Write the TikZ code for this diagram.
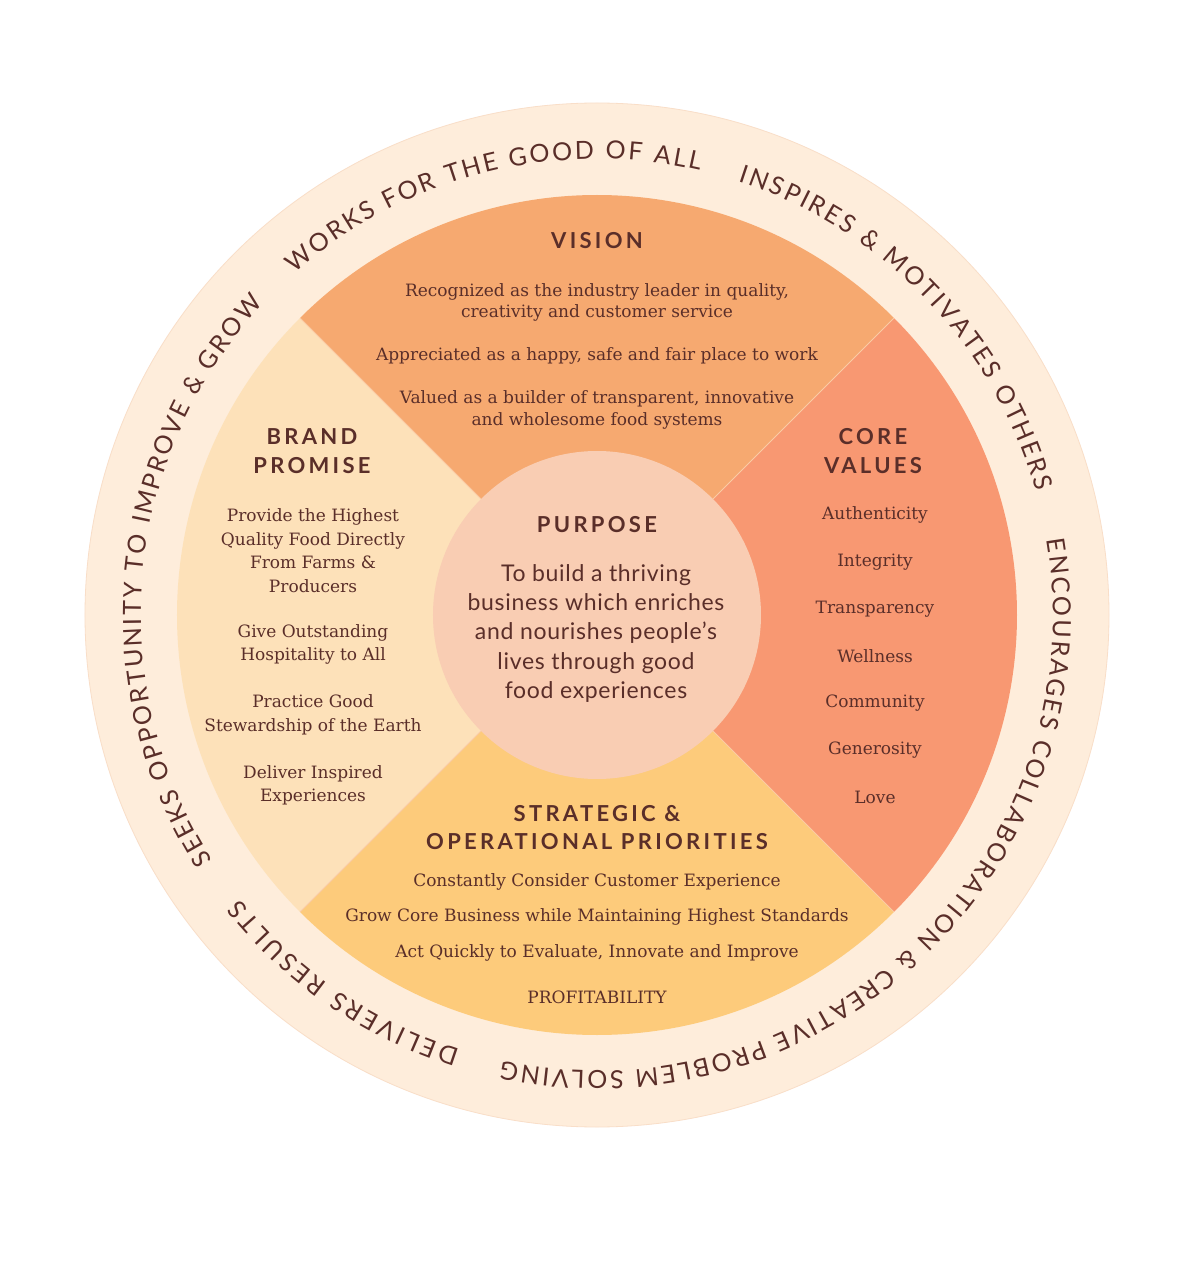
\documentclass[tikz,border=0pt]{standalone}
\usepackage{fontspec}
\setmainfont{DejaVu Serif}
\newfontfamily\headfont[LetterSpace=15]{Lato}
\newfontfamily\sansfont{Lato}
\newfontfamily\bodysans[LetterSpace=3]{Lato}
\usetikzlibrary{decorations.text}
\definecolor{ringbg}{HTML}{FEEDDB}
\definecolor{ringedge}{HTML}{F9DEC8}
\definecolor{visioncol}{HTML}{F6A970}
\definecolor{valuescol}{HTML}{F89872}
\definecolor{priocol}{HTML}{FDCB7B}
\definecolor{brandcol}{HTML}{FDE1B9}
\definecolor{purposecol}{HTML}{F9CDB3}
\definecolor{textbrown}{HTML}{5A2E29}

\begin{document}
\begin{tikzpicture}[x=1pt,y=1pt,
    headtext/.style={text=textbrown, align=center, inner sep=0pt,
      font=\headfont\bfseries\fontsize{22}{28.5}\selectfont},
    itemtext/.style={text=textbrown, align=center, inner sep=0pt,
      font=\fontsize{17}{#1}\selectfont},
    itemtext/.default=21.5,
    purposetext/.style={text=textbrown, align=center, inner sep=0pt,
      font=\bodysans\fontsize{23}{29.25}\selectfont},
    ringtext/.style={decorate, decoration={text along path, text align=fit to path,
      text={|\sansfont\fontsize{25}{25}\selectfont\color{textbrown}|#1}}}]
  \useasboundingbox[fill=white] (-597,-657) rectangle (603,615);

  % outer ring
  \fill[ringbg, draw=ringedge, line width=0.8] (0,0) circle[radius=512];

  % four quadrants
  \fill[visioncol] (0,0) -- (45:420) arc[start angle=45, end angle=135, radius=420] -- cycle;
  \fill[valuescol] (0,0) -- (-45:420) arc[start angle=-45, end angle=45, radius=420] -- cycle;
  \fill[priocol] (0,0) -- (-135:420) arc[start angle=-135, end angle=-45, radius=420] -- cycle;
  \fill[brandcol] (0,0) -- (135:420) arc[start angle=135, end angle=225, radius=420] -- cycle;
  \foreach \a in {45,135,225,315}
    \draw[ringbg!50!visioncol, line width=0.8] (\a:164) -- (\a:420);

  % centre
  \fill[purposecol] (0,0) circle[radius=164];

  % text round the ring
  \path[ringtext={WORKS FOR THE GOOD OF ALL}]
    (131.5:456) arc[start angle=131.5, end angle=77, radius=456];
  \path[ringtext={INSPIRES {\&} MOTIVATES OTHERS}]
    (72:456) arc[start angle=72, end angle=15.7, radius=456];
  \path[ringtext={ENCOURAGES COLLABORATION {\&} CREATIVE PROBLEM SOLVING}]
    (9.5:456) arc[start angle=9.5, end angle=-102, radius=456];
  \path[ringtext={DELIVERS RESULTS}]
    (-107.5:456) arc[start angle=-107.5, end angle=-141.5, radius=456];
  \path[ringtext={SEEKS OPPORTUNITY TO IMPROVE {\&} GROW}]
    (-147.5:456) arc[start angle=-147.5, end angle=-223, radius=456];

  % vision
  \node[headtext] (vision) at (0,374) {VISION};
  \node[itemtext] (vision1) at (0,312.5) {Recognized as the industry leader in quality,\\creativity and customer service};
  \node[itemtext] (vision2) at (0,259) {Appreciated as a happy, safe and fair place to work};
  \node[itemtext] (vision3) at (0,205) {Valued as a builder of transparent, innovative\\and wholesome food systems};

  % brand promise
  \node[headtext] (brand) at (-285,164) {BRAND\\PROMISE};
  \node[itemtext=23.6] (brand1) at (-284,64.5) {Provide the Highest\\Quality Food Directly\\From Farms \&\\Producers};
  \node[itemtext=23.6] (brand2) at (-284,-29.5) {Give Outstanding\\Hospitality to All};
  \node[itemtext=23.6] (brand3) at (-284,-100) {Practice Good\\Stewardship of the Earth};
  \node[itemtext=23.6] (brand4) at (-284,-170.5) {Deliver Inspired\\Experiences};

  % core values
  \node[headtext] (values) at (276,164) {CORE\\VALUES};
  \node[itemtext] (value1) at (278,100) {Authenticity};
  \node[itemtext] (value2) at (278,53) {Integrity};
  \node[itemtext] (value3) at (278,6) {Transparency};
  \node[itemtext] (value4) at (278,-41) {Wellness};
  \node[itemtext] (value5) at (278,-88) {Community};
  \node[itemtext] (value6) at (278,-135) {Generosity};
  \node[itemtext] (value7) at (278,-182) {Love};

  % purpose
  \node[headtext] (purpose) at (0,90) {PURPOSE};
  \node[purposetext] (purposebody) at (-1,-18.5) {To build a thriving\\business which enriches\\and nourishes people’s\\lives through good\\food experiences};

  % strategic priorities
  \node[headtext] (prio) at (0,-212.5) {STRATEGIC \&\\OPERATIONAL PRIORITIES};
  \node[itemtext] (prio1) at (0,-267) {Constantly Consider Customer Experience};
  \node[itemtext] (prio2) at (0,-302) {Grow Core Business while Maintaining Highest Standards};
  \node[itemtext] (prio3) at (0,-338) {Act Quickly to Evaluate, Innovate and Improve};
  \node[itemtext] (prio4) at (0,-382) {PROFITABILITY};
\end{tikzpicture}
\end{document}
